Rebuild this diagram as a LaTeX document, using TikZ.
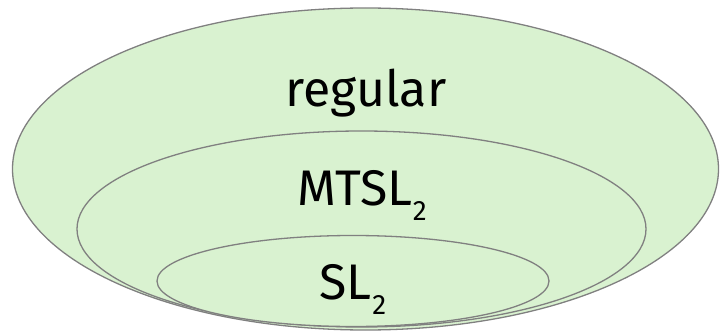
\documentclass[tikz,border=0pt]{standalone}
\usepackage{fontspec}
\setmainfont{Fira Sans}
\usetikzlibrary{shapes.geometric}
\definecolor{setfill}{HTML}{D9F2D0}
\definecolor{setline}{HTML}{808080}
\tikzset{
  setellipse/.style={draw=setline, fill=setfill, line width=1.3pt},
  lbl/.style={anchor=base, inner sep=0pt, font=\fontsize{50}{58}\selectfont},
}
\newcommand{\subtwo}{\kern0.5pt\raisebox{-15pt}{\fontsize{28}{32}\selectfont 2}}
\begin{document}
\begin{tikzpicture}[x=1pt,y=-1pt]
\useasboundingbox (0,0) rectangle (720,334);
\draw[setellipse] (365.5,169) ellipse [x radius=353, y radius=161];
\draw[setellipse] (361.5,229) ellipse [x radius=284.5, y radius=98];
\draw[setellipse] (353,281) ellipse [x radius=196, y radius=45.5];
\node[lbl] (reg) at (366,107) {regular};
\node[lbl] (mtsl) at (362,205) {MTSL\subtwo};
\node[lbl] (sl) at (353,299) {SL\subtwo};
\end{tikzpicture}
\end{document}
